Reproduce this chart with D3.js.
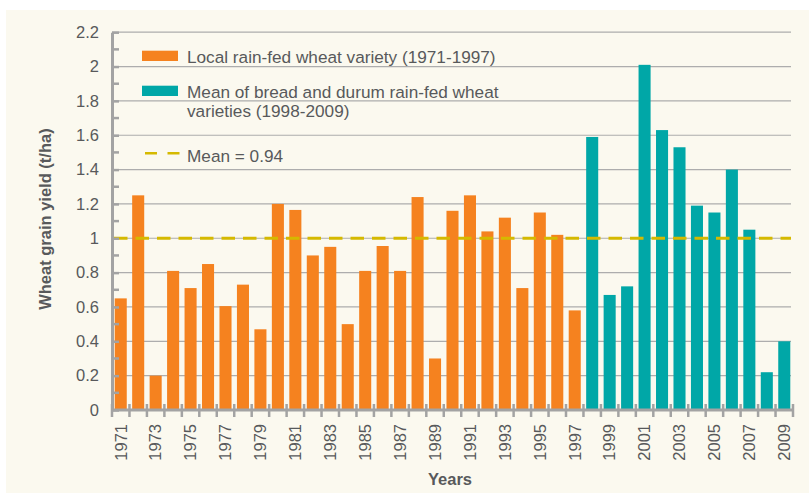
<!DOCTYPE html>
<html>
<head>
<meta charset="utf-8">
<script src="https://cdn.jsdelivr.net/npm/d3@7"></script>
<style>
  body { margin: 0; background: #fff; }
  text { font-family: "Liberation Sans", Arial, sans-serif; fill: #58595b; }
</style>
</head>
<body>
<div id="chart"></div>
<script>
// years on the x axis
const years = [1971, 1972, 1973, 1974, 1975, 1976, 1977, 1978, 1979, 1980,
    1981, 1982, 1983, 1984, 1985, 1986, 1987, 1988, 1989, 1990,
    1991, 1992, 1993, 1994, 1995, 1996, 1997, 1998, 1999, 2000,
    2001, 2002, 2003, 2004, 2005, 2006, 2007, 2008, 2009];

// local variety 1971-1997 (t/ha)
const localYield = [0.65, 1.25, 0.2, 0.81, 0.71, 0.85, 0.605, 0.73, 0.47, 1.2,
    1.165, 0.9, 0.95, 0.5, 0.81, 0.955, 0.81, 1.24, 0.3, 1.16,
    1.25, 1.04, 1.12, 0.71, 1.15, 1.02, 0.58];

// bread + durum mean 1998-2009 (t/ha)
const improvedYield = [1.59, 0.67, 0.72, 2.01, 1.63, 1.53, 1.19, 1.15, 1.4, 1.05, 0.22, 0.4];

const meanLevel = 1.0;
const yTicks = [0, 0.2, 0.4, 0.6, 0.8, 1, 1.2, 1.4, 1.6, 1.8, 2, 2.2];
const yMinorTicks = [0.1, 0.3, 0.5, 0.7, 0.9, 1.1, 1.3, 1.5, 1.7, 1.9, 2.1];
const legendLabels = ["Local rain-fed wheat variety (1971-1997)",
    "Mean of bread and durum rain-fed wheat", "varieties (1998-2009)",
    "Mean = 0.94"];

const colorLocal = "#f5821f";
const colorImproved = "#00a7a7";
const colorMean = "#d5b900";
const axisGrey = "#a3a3a3";

const width = 809, height = 493;
const x0 = 112, x1 = 793, yTop = 32.2, yBottom = 410;

const data = years.map((yr, i) => ({
    year: yr,
    value: i < localYield.length ? localYield[i] : improvedYield[i - localYield.length],
    color: i < localYield.length ? colorLocal : colorImproved
}));

const svg = d3.select("#chart").append("svg")
    .attr("width", width)
    .attr("height", height);

// beige panel
svg.append("rect")
    .attr("x", 6).attr("y", 10)
    .attr("width", width - 6).attr("height", height - 10)
    .attr("fill", "#fbf9ef");

const x = d3.scaleBand()
    .domain(years)
    .range([x0, x1])
    .paddingInner(0.31)
    .paddingOuter(0.155);

const y = d3.scaleLinear()
    .domain([0, 2.2])
    .range([yBottom, yTop]);

// gridlines
svg.append("g")
    .selectAll("line")
    .data(yTicks.filter(d => d > 0))
    .enter().append("line")
    .attr("x1", x0).attr("x2", 791)
    .attr("y1", d => y(d)).attr("y2", d => y(d))
    .attr("stroke", "#adadad")
    .attr("stroke-width", 1.2);

// bars
svg.append("g")
    .selectAll("rect")
    .data(data)
    .enter().append("rect")
    .attr("x", d => x(d.year))
    .attr("width", x.bandwidth())
    .attr("y", d => y(d.value))
    .attr("height", d => y(0) - y(d.value))
    .attr("fill", d => d.color);

// mean line
svg.append("line")
    .attr("x1", x0 + 2).attr("x2", 791)
    .attr("y1", y(meanLevel)).attr("y2", y(meanLevel))
    .attr("stroke", colorMean)
    .attr("stroke-width", 3)
    .attr("stroke-dasharray", "13.5,8");

// y axis
const fmt = d3.format("~g");
const yAxis = svg.append("g")
    .attr("transform", `translate(${x0},0)`)
    .call(d3.axisLeft(y).tickValues(yTicks).tickFormat(fmt).tickSize(7).tickSizeOuter(0).tickPadding(6));
yAxis.select(".domain").attr("stroke", axisGrey).attr("stroke-width", 3);
yAxis.selectAll(".tick line").attr("x2", 7).attr("stroke", axisGrey).attr("stroke-width", 2.5);
yAxis.selectAll(".tick text")
    .attr("font-size", 16.5)
    .style("font-family", "'Liberation Sans', Arial, sans-serif")
    .attr("fill", "#58595b");

svg.append("g")
    .selectAll("line")
    .data(yMinorTicks)
    .enter().append("line")
    .attr("x1", x0).attr("x2", x0 + 7)
    .attr("y1", d => y(d)).attr("y2", d => y(d))
    .attr("stroke", axisGrey)
    .attr("stroke-width", 2.5);

// x axis
const half = (x.step() - x.bandwidth()) / 2;
const tickX = years.map(yr => x(yr) - half).concat([x1]);
svg.append("line")
    .attr("x1", x0).attr("x2", x1)
    .attr("y1", yBottom).attr("y2", yBottom)
    .attr("stroke", axisGrey)
    .attr("stroke-width", 3);
svg.append("g")
    .selectAll("line")
    .data(tickX)
    .enter().append("line")
    .attr("x1", d => d).attr("x2", d => d)
    .attr("y1", yBottom - 6).attr("y2", yBottom + 7)
    .attr("stroke", axisGrey)
    .attr("stroke-width", 2.5);

svg.append("g")
    .selectAll("text")
    .data(years.filter(yr => yr % 2 === 1))
    .enter().append("text")
    .attr("transform", d => `translate(${x(d) + x.bandwidth() / 2},424) rotate(-90)`)
    .attr("dy", "0.35em")
    .attr("text-anchor", "end")
    .attr("font-size", 16.5)
    .text(d => d);

// axis titles
svg.append("text")
    .attr("x", 450).attr("y", 485)
    .attr("text-anchor", "middle")
    .attr("font-size", 16.5)
    .attr("font-weight", "bold")
    .text("Years");

svg.append("text")
    .attr("transform", `translate(45,${(yTop + yBottom) / 2 - 2}) rotate(-90)`)
    .attr("dy", "0.35em")
    .attr("text-anchor", "middle")
    .attr("font-size", 16.5)
    .attr("font-weight", "bold")
    .text("Wheat grain yield (t/ha)");

// legend
const legend = svg.append("g").attr("class", "legend");
legend.append("rect")
    .attr("x", 142).attr("y", 50.7)
    .attr("width", 36).attr("height", 10.3)
    .attr("fill", colorLocal);
legend.append("rect")
    .attr("x", 142).attr("y", 85.7)
    .attr("width", 36).attr("height", 10.3)
    .attr("fill", colorImproved);
legend.append("line")
    .attr("x1", 145).attr("x2", 180)
    .attr("y1", 153.3).attr("y2", 153.3)
    .attr("stroke", colorMean)
    .attr("stroke-width", 2.5)
    .attr("stroke-dasharray", "12,10.5");

legend.selectAll("text")
    .data(legendLabels)
    .enter().append("text")
    .attr("x", 187)
    .attr("y", (d, i) => [56.7, 91.7, 111, 156][i])
    .attr("dy", "0.35em")
    .attr("font-size", 17.2)
    .text(d => d);
</script>
</body>
</html>
